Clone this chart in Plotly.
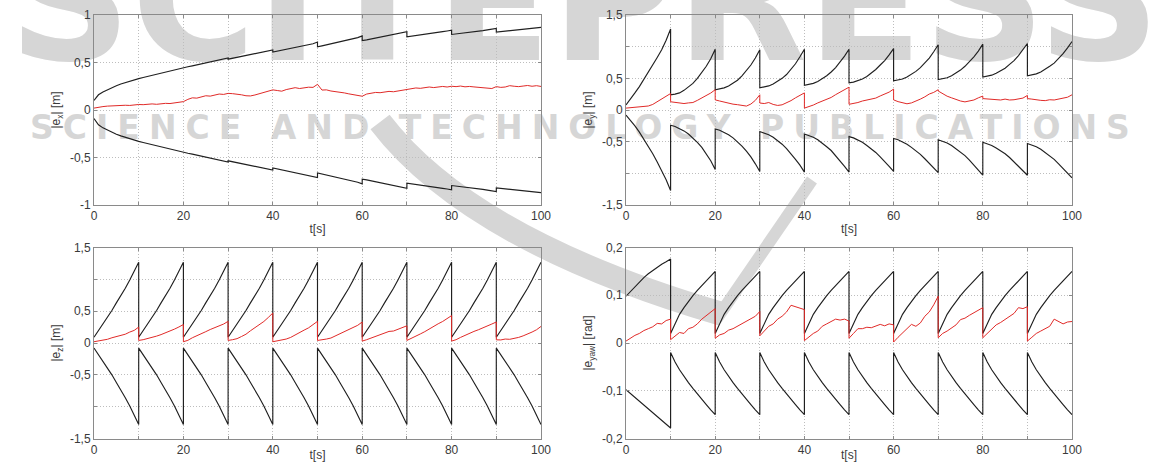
import plotly.graph_objects as go

# ---------------------------------------------------------------
# Estimation error |e| (red) and its confidence bounds (black)
# sampled every second; each bound list holds one 10 s cycle.
# ---------------------------------------------------------------
CYCLE_S = 10

# |e_x| [m]
ex_upper = [
    [0.10, 0.16, 0.19, 0.215, 0.237, 0.256, 0.273, 0.289, 0.303, 0.317, 0.33],
    [0.33, 0.342, 0.354, 0.366, 0.378, 0.389, 0.40, 0.412, 0.423, 0.434, 0.445],
    [0.445, 0.455, 0.465, 0.475, 0.485, 0.495, 0.505, 0.515, 0.525, 0.535, 0.548],
    [0.535, 0.545, 0.555, 0.565, 0.574, 0.583, 0.592, 0.601, 0.61, 0.62, 0.632],
    [0.61, 0.62, 0.629, 0.638, 0.647, 0.656, 0.665, 0.675, 0.685, 0.697, 0.715],
    [0.665, 0.675, 0.685, 0.695, 0.705, 0.715, 0.726, 0.737, 0.748, 0.762, 0.78],
    [0.73, 0.738, 0.747, 0.756, 0.766, 0.776, 0.786, 0.796, 0.806, 0.815, 0.825],
    [0.77, 0.776, 0.783, 0.79, 0.797, 0.804, 0.811, 0.818, 0.825, 0.832, 0.84],
    [0.795, 0.80, 0.806, 0.812, 0.818, 0.824, 0.83, 0.836, 0.843, 0.85, 0.858],
    [0.82, 0.825, 0.83, 0.836, 0.841, 0.847, 0.852, 0.857, 0.862, 0.866, 0.87],
]
ex_lower = [
    [-0.09, -0.155, -0.188, -0.213, -0.235, -0.255, -0.272, -0.288, -0.302, -0.316, -0.33],
    [-0.33, -0.342, -0.354, -0.366, -0.378, -0.389, -0.40, -0.412, -0.423, -0.434, -0.445],
    [-0.445, -0.455, -0.465, -0.475, -0.485, -0.495, -0.505, -0.515, -0.525, -0.535, -0.548],
    [-0.535, -0.545, -0.555, -0.565, -0.574, -0.583, -0.592, -0.601, -0.61, -0.62, -0.632],
    [-0.61, -0.62, -0.629, -0.638, -0.647, -0.656, -0.665, -0.675, -0.685, -0.697, -0.712],
    [-0.662, -0.672, -0.682, -0.692, -0.702, -0.713, -0.724, -0.735, -0.746, -0.76, -0.778],
    [-0.728, -0.736, -0.745, -0.754, -0.764, -0.774, -0.784, -0.794, -0.804, -0.814, -0.824],
    [-0.77, -0.776, -0.783, -0.79, -0.797, -0.804, -0.811, -0.818, -0.825, -0.832, -0.84],
    [-0.795, -0.80, -0.806, -0.812, -0.818, -0.824, -0.83, -0.836, -0.843, -0.85, -0.858],
    [-0.82, -0.825, -0.83, -0.836, -0.841, -0.847, -0.852, -0.857, -0.862, -0.866, -0.87],
]
ex_err = [
    0.020, 0.032, 0.036, 0.041, 0.044, 0.040, 0.046, 0.050, 0.048, 0.055, 0.058,
    0.056, 0.060, 0.064, 0.060, 0.066, 0.070, 0.068, 0.075, 0.080, 0.088,
    0.112, 0.128, 0.125, 0.138, 0.150, 0.146, 0.158, 0.168, 0.164, 0.175,
    0.172, 0.168, 0.160, 0.150, 0.148, 0.158, 0.170, 0.185, 0.200, 0.212,
    0.205, 0.198, 0.215, 0.228, 0.235, 0.226, 0.232, 0.240, 0.238, 0.270,
    0.210, 0.212, 0.200, 0.195, 0.188, 0.180, 0.170, 0.162, 0.150, 0.145,
    0.168, 0.176, 0.185, 0.182, 0.190, 0.196, 0.192, 0.200, 0.210, 0.222,
    0.226, 0.232, 0.228, 0.238, 0.242, 0.236, 0.244, 0.248, 0.242, 0.250,
    0.246, 0.252, 0.244, 0.248, 0.243, 0.238, 0.236, 0.230, 0.226, 0.246,
    0.238, 0.242, 0.256, 0.250, 0.246, 0.252, 0.258, 0.250, 0.256, 0.248,
]

# |e_y| [m]
ey_upper = [
    [0.08, 0.17, 0.27, 0.37, 0.48, 0.59, 0.71, 0.83, 0.95, 1.10, 1.28],
    [0.24, 0.25, 0.27, 0.31, 0.36, 0.42, 0.50, 0.59, 0.69, 0.81, 0.96],
    [0.32, 0.33, 0.35, 0.38, 0.42, 0.47, 0.54, 0.62, 0.71, 0.82, 0.95],
    [0.35, 0.36, 0.38, 0.41, 0.45, 0.50, 0.56, 0.64, 0.73, 0.84, 0.96],
    [0.39, 0.40, 0.42, 0.45, 0.49, 0.54, 0.60, 0.67, 0.76, 0.85, 0.96],
    [0.43, 0.44, 0.46, 0.49, 0.53, 0.58, 0.64, 0.71, 0.78, 0.87, 0.97],
    [0.46, 0.47, 0.49, 0.52, 0.56, 0.61, 0.67, 0.74, 0.82, 0.92, 1.03],
    [0.48, 0.49, 0.51, 0.54, 0.58, 0.63, 0.69, 0.76, 0.84, 0.93, 1.04],
    [0.52, 0.53, 0.55, 0.58, 0.62, 0.66, 0.72, 0.78, 0.86, 0.95, 1.05],
    [0.54, 0.55, 0.57, 0.60, 0.64, 0.69, 0.74, 0.81, 0.89, 0.98, 1.08],
]
ey_lower = [
    [-0.08, -0.16, -0.25, -0.35, -0.46, -0.57, -0.69, -0.82, -0.95, -1.10, -1.27],
    [-0.24, -0.26, -0.29, -0.33, -0.38, -0.44, -0.51, -0.59, -0.69, -0.80, -0.94],
    [-0.30, -0.32, -0.35, -0.39, -0.44, -0.50, -0.57, -0.65, -0.74, -0.85, -0.97],
    [-0.34, -0.36, -0.39, -0.43, -0.48, -0.54, -0.61, -0.69, -0.78, -0.87, -0.98],
    [-0.38, -0.40, -0.43, -0.47, -0.52, -0.58, -0.64, -0.72, -0.80, -0.89, -0.98],
    [-0.42, -0.44, -0.47, -0.51, -0.56, -0.61, -0.67, -0.74, -0.81, -0.89, -0.97],
    [-0.45, -0.47, -0.50, -0.54, -0.59, -0.64, -0.70, -0.77, -0.84, -0.91, -0.99],
    [-0.47, -0.49, -0.52, -0.56, -0.61, -0.66, -0.72, -0.79, -0.87, -0.95, -1.03],
    [-0.51, -0.53, -0.56, -0.60, -0.64, -0.69, -0.75, -0.82, -0.89, -0.96, -1.03],
    [-0.53, -0.55, -0.58, -0.62, -0.67, -0.72, -0.78, -0.85, -0.92, -0.99, -1.07],
]
ey_err = [
    [0.03, 0.036, 0.038, 0.047, 0.05, 0.063, 0.088, 0.132, 0.168, 0.212, 0.26],
    [0.13, 0.122, 0.108, 0.102, 0.112, 0.118, 0.152, 0.188, 0.232, 0.268, 0.32],
    [0.16, 0.142, 0.125, 0.104, 0.092, 0.084, 0.072, 0.062, 0.094, 0.152, 0.24],
    [0.11, 0.102, 0.118, 0.088, 0.072, 0.082, 0.112, 0.148, 0.192, 0.228, 0.27],
    [0.03, 0.052, 0.078, 0.112, 0.138, 0.172, 0.198, 0.242, 0.278, 0.322, 0.36],
    [0.09, 0.102, 0.118, 0.142, 0.158, 0.172, 0.188, 0.222, 0.248, 0.282, 0.33],
    [0.16, 0.132, 0.112, 0.098, 0.112, 0.138, 0.172, 0.208, 0.252, 0.278, 0.32],
    [0.30, 0.252, 0.218, 0.192, 0.162, 0.142, 0.128, 0.142, 0.158, 0.192, 0.22],
    [0.18, 0.172, 0.168, 0.162, 0.158, 0.172, 0.158, 0.162, 0.172, 0.188, 0.23],
    [0.18, 0.172, 0.158, 0.152, 0.148, 0.162, 0.158, 0.172, 0.178, 0.202, 0.24],
]

# |e_z| [m]
ez_upper = [
    [0.09, 0.19, 0.29, 0.40, 0.51, 0.63, 0.74, 0.86, 0.99, 1.13, 1.27],
    [0.09, 0.19, 0.29, 0.40, 0.51, 0.63, 0.74, 0.86, 0.99, 1.13, 1.27],
    [0.09, 0.19, 0.29, 0.40, 0.51, 0.63, 0.74, 0.86, 0.99, 1.13, 1.27],
    [0.09, 0.19, 0.29, 0.40, 0.51, 0.63, 0.74, 0.86, 0.99, 1.13, 1.27],
    [0.09, 0.19, 0.29, 0.40, 0.51, 0.63, 0.74, 0.86, 0.99, 1.13, 1.27],
    [0.09, 0.19, 0.29, 0.40, 0.51, 0.63, 0.74, 0.86, 0.99, 1.13, 1.27],
    [0.09, 0.19, 0.29, 0.40, 0.51, 0.63, 0.74, 0.86, 0.99, 1.13, 1.27],
    [0.09, 0.19, 0.29, 0.40, 0.51, 0.63, 0.74, 0.86, 0.99, 1.13, 1.27],
    [0.09, 0.19, 0.29, 0.40, 0.51, 0.63, 0.74, 0.86, 0.99, 1.13, 1.27],
    [0.09, 0.19, 0.29, 0.40, 0.51, 0.63, 0.74, 0.86, 0.99, 1.13, 1.27],
]
ez_lower = [
    [-0.08, -0.18, -0.28, -0.39, -0.50, -0.62, -0.73, -0.86, -0.99, -1.13, -1.28],
    [-0.08, -0.18, -0.28, -0.39, -0.50, -0.62, -0.73, -0.86, -0.99, -1.13, -1.28],
    [-0.08, -0.18, -0.28, -0.39, -0.50, -0.62, -0.73, -0.86, -0.99, -1.13, -1.28],
    [-0.08, -0.18, -0.28, -0.39, -0.50, -0.62, -0.73, -0.86, -0.99, -1.13, -1.28],
    [-0.08, -0.18, -0.28, -0.39, -0.50, -0.62, -0.73, -0.86, -0.99, -1.13, -1.28],
    [-0.08, -0.18, -0.28, -0.39, -0.50, -0.62, -0.73, -0.86, -0.99, -1.13, -1.28],
    [-0.08, -0.18, -0.28, -0.39, -0.50, -0.62, -0.73, -0.86, -0.99, -1.13, -1.28],
    [-0.08, -0.18, -0.28, -0.39, -0.50, -0.62, -0.73, -0.86, -0.99, -1.13, -1.28],
    [-0.08, -0.18, -0.28, -0.39, -0.50, -0.62, -0.73, -0.86, -0.99, -1.13, -1.28],
    [-0.08, -0.18, -0.28, -0.39, -0.50, -0.62, -0.73, -0.86, -0.99, -1.13, -1.28],
]
ez_err = [
    [0.02, 0.031, 0.042, 0.058, 0.082, 0.098, 0.122, 0.138, 0.172, 0.198, 0.25],
    [0.04, 0.052, 0.068, 0.092, 0.108, 0.132, 0.158, 0.192, 0.218, 0.252, 0.29],
    [0.02, 0.042, 0.082, 0.118, 0.152, 0.178, 0.212, 0.238, 0.272, 0.298, 0.34],
    [0.04, 0.052, 0.068, 0.102, 0.138, 0.192, 0.238, 0.292, 0.338, 0.402, 0.47],
    [0.02, 0.032, 0.038, 0.062, 0.088, 0.122, 0.158, 0.202, 0.238, 0.292, 0.34],
    [0.04, 0.048, 0.062, 0.078, 0.112, 0.138, 0.172, 0.208, 0.242, 0.278, 0.33],
    [0.03, 0.052, 0.078, 0.112, 0.138, 0.168, 0.182, 0.188, 0.212, 0.238, 0.27],
    [0.04, 0.072, 0.098, 0.142, 0.178, 0.222, 0.258, 0.302, 0.338, 0.382, 0.43],
    [0.03, 0.052, 0.088, 0.122, 0.148, 0.182, 0.208, 0.242, 0.272, 0.298, 0.33],
    [0.05, 0.048, 0.062, 0.058, 0.072, 0.088, 0.112, 0.138, 0.172, 0.208, 0.26],
]

# |e_yaw| [rad]
eyaw_upper = [
    [0.098, 0.108, 0.118, 0.128, 0.137, 0.145, 0.152, 0.159, 0.165, 0.170, 0.176],
    [0.02, 0.042, 0.06, 0.074, 0.087, 0.099, 0.11, 0.12, 0.131, 0.141, 0.15],
    [0.02, 0.042, 0.06, 0.074, 0.087, 0.099, 0.11, 0.12, 0.131, 0.141, 0.15],
    [0.02, 0.042, 0.06, 0.074, 0.087, 0.099, 0.11, 0.12, 0.131, 0.141, 0.15],
    [0.02, 0.042, 0.06, 0.074, 0.087, 0.099, 0.11, 0.12, 0.131, 0.141, 0.15],
    [0.02, 0.042, 0.06, 0.074, 0.087, 0.099, 0.11, 0.12, 0.131, 0.141, 0.15],
    [0.02, 0.042, 0.06, 0.074, 0.087, 0.099, 0.11, 0.12, 0.131, 0.141, 0.15],
    [0.02, 0.042, 0.06, 0.074, 0.087, 0.099, 0.11, 0.12, 0.131, 0.141, 0.15],
    [0.02, 0.042, 0.06, 0.074, 0.087, 0.099, 0.11, 0.12, 0.131, 0.141, 0.15],
    [0.02, 0.042, 0.06, 0.074, 0.087, 0.099, 0.11, 0.12, 0.131, 0.141, 0.15],
]
eyaw_lower = [
    [-0.098, -0.106, -0.114, -0.122, -0.13, -0.138, -0.146, -0.154, -0.162, -0.17, -0.178],
    [-0.02, -0.04, -0.056, -0.07, -0.083, -0.095, -0.107, -0.118, -0.129, -0.14, -0.15],
    [-0.02, -0.04, -0.056, -0.07, -0.083, -0.095, -0.107, -0.118, -0.129, -0.14, -0.15],
    [-0.02, -0.04, -0.056, -0.07, -0.083, -0.095, -0.107, -0.118, -0.129, -0.14, -0.15],
    [-0.02, -0.04, -0.056, -0.07, -0.083, -0.095, -0.107, -0.118, -0.129, -0.14, -0.15],
    [-0.02, -0.04, -0.056, -0.07, -0.083, -0.095, -0.107, -0.118, -0.129, -0.14, -0.15],
    [-0.02, -0.04, -0.056, -0.07, -0.083, -0.095, -0.107, -0.118, -0.129, -0.14, -0.15],
    [-0.02, -0.04, -0.056, -0.07, -0.083, -0.095, -0.107, -0.118, -0.129, -0.14, -0.15],
    [-0.02, -0.04, -0.056, -0.07, -0.083, -0.095, -0.107, -0.118, -0.129, -0.14, -0.15],
    [-0.02, -0.04, -0.056, -0.07, -0.083, -0.095, -0.107, -0.118, -0.129, -0.14, -0.15],
]
eyaw_err = [
    [0.004, 0.010, 0.016, 0.020, 0.026, 0.030, 0.034, 0.041, 0.040, 0.047, 0.050],
    [0.007, 0.015, 0.022, 0.020, 0.030, 0.033, 0.040, 0.050, 0.058, 0.066, 0.072],
    [0.010, 0.017, 0.020, 0.027, 0.030, 0.035, 0.040, 0.045, 0.050, 0.056, 0.066],
    [0.015, 0.025, 0.035, 0.040, 0.050, 0.056, 0.065, 0.079, 0.076, 0.072, 0.070],
    [0.005, 0.012, 0.020, 0.025, 0.035, 0.040, 0.045, 0.050, 0.048, 0.050, 0.046],
    [0.010, 0.020, 0.030, 0.030, 0.033, 0.032, 0.035, 0.039, 0.036, 0.040, 0.038],
    [0.002, 0.012, 0.021, 0.030, 0.039, 0.035, 0.042, 0.056, 0.065, 0.080, 0.098],
    [0.011, 0.020, 0.025, 0.032, 0.038, 0.049, 0.052, 0.058, 0.063, 0.068, 0.074],
    [0.011, 0.020, 0.030, 0.038, 0.043, 0.049, 0.055, 0.062, 0.074, 0.072, 0.076],
    [0.004, 0.012, 0.020, 0.025, 0.030, 0.035, 0.050, 0.045, 0.040, 0.044, 0.045],
]

# labelled ticks (decimal comma) and the extra unlabelled grid positions
x_ticks = [0, 20, 40, 60, 80, 100]
x_ticktext = ["0", "20", "40", "60", "80", "100"]
x_minor = [10, 30, 50, 70, 90]
y_ticks_1 = [-1, -0.5, 0, 0.5, 1]
y_ticktext_1 = ["-1", "-0,5", "0", "0,5", "1"]
y_ticks_15 = [-1.5, -0.5, 0, 0.5, 1.5]
y_ticktext_15 = ["-1,5", "-0,5", "0", "0,5", "1,5"]
y_minor_15 = [-1, 1]
y_ticks_02 = [-0.2, -0.1, 0, 0.1, 0.2]
y_ticktext_02 = ["-0,2", "-0,1", "0", "0,1", "0,2"]
y_titles = ["|e<sub>x</sub>| [m]", "|e<sub>y</sub>| [m]",
            "|e<sub>z</sub>| [m]", "|e<sub>yaw</sub>| [rad]"]
x_title = "t[s]"

BLACK = "#202020"
RED = "#e02a28"
GRID = "#bdbdbd"
FRAME = "#8a8a8a"
FIG_W, FIG_H = 1169, 462


def stitch(segments):
    """Join 10 s cycles into one polyline (jumps kept at cycle ends)."""
    t, v = [], []
    for k, seg in enumerate(segments):
        step = CYCLE_S / (len(seg) - 1)
        for i, val in enumerate(seg):
            t.append(k * CYCLE_S + i * step)
            v.append(val)
    return t, v


def px_x(p):
    return p / FIG_W


def px_y(p):
    return 1 - p / FIG_H


fig = go.Figure()

panels = [
    # (axis suffix, upper, lower, error series)
    ("", ex_upper, ex_lower, ex_err),
    ("2", ey_upper, ey_lower, ey_err),
    ("3", ez_upper, ez_lower, ez_err),
    ("4", eyaw_upper, eyaw_lower, eyaw_err),
]
for suffix, up, lo, err in panels:
    xa, ya = "x" + suffix, "y" + suffix
    for bound in (up, lo):
        t, v = stitch(bound)
        fig.add_trace(go.Scatter(x=t, y=v, mode="lines", xaxis=xa, yaxis=ya,
                                 line=dict(color=BLACK, width=1.15), showlegend=False,
                                 hoverinfo="skip"))
    if isinstance(err[0], list):
        t, v = stitch(err)
    else:
        t, v = list(range(len(err))), err
    fig.add_trace(go.Scatter(x=t, y=v, mode="lines", xaxis=xa, yaxis=ya,
                             line=dict(color=RED, width=1.0), showlegend=False,
                             hoverinfo="skip"))

text_font = dict(family="Liberation Sans, Arial, sans-serif", size=12, color="#3a3a3a")
DOT = "1px,2px"
axis_common = dict(
    showline=True, mirror="ticks", linecolor=FRAME, linewidth=1,
    showgrid=True, gridcolor=GRID, griddash=DOT, gridwidth=1,
    zeroline=False, ticks="inside", ticklen=3, tickcolor=FRAME,
    tickfont=text_font, automargin=False, fixedrange=True,
)

left_dom = [px_x(94), px_x(541)]
right_dom = [px_x(626), px_x(1072)]
top_dom = [px_y(205), px_y(15)]
bot_dom = [px_y(438.5), px_y(247.5)]

layout = dict(
    width=FIG_W, height=FIG_H,
    margin=dict(l=0, r=0, t=0, b=0),
    paper_bgcolor="white", plot_bgcolor="rgba(0,0,0,0)",
    showlegend=False,
)


def minor_grid(vals):
    return dict(tickmode="array", tickvals=vals, showgrid=True, gridcolor=GRID,
                griddash=DOT, gridwidth=1, ticks="inside", ticklen=3, tickcolor=FRAME)


x_specs = [("xaxis", left_dom, "y"), ("xaxis2", right_dom, "y2"),
           ("xaxis3", left_dom, "y3"), ("xaxis4", right_dom, "y4")]
y_specs = [("yaxis", top_dom, "x", y_ticks_1, y_ticktext_1, [], [-1, 1], 0),
           ("yaxis2", top_dom, "x2", y_ticks_15, y_ticktext_15, y_minor_15, [-1.5, 1.5], 1),
           ("yaxis3", bot_dom, "x3", y_ticks_15, y_ticktext_15, y_minor_15, [-1.5, 1.5], 2),
           ("yaxis4", bot_dom, "x4", y_ticks_02, y_ticktext_02, [], [-0.2, 0.2], 3)]
for name, dom, anchor in x_specs:
    layout[name] = dict(axis_common, domain=dom, anchor=anchor, range=[0, 100],
                        tickmode="array", tickvals=x_ticks, ticktext=x_ticktext,
                        minor=minor_grid(x_minor),
                        title=dict(text=x_title, font=text_font, standoff=2))
for name, dom, anchor, tv, tt, mv, rng, k in y_specs:
    spec = dict(axis_common, domain=dom, anchor=anchor, range=rng,
                tickmode="array", tickvals=tv, ticktext=tt,
                title=dict(text=y_titles[k], font=text_font, standoff=6))
    if mv:
        spec["minor"] = minor_grid(mv)
    layout[name] = spec
fig.update_layout(**layout)

# publisher watermark, kept behind the curves
WM = "#d6d6d6"
fig.add_shape(type="path", xref="paper", yref="paper", layer="below",
              path="M {:.4f},{:.4f} Q {:.4f},{:.4f} {:.4f},{:.4f}".format(
                  px_x(380), px_y(122), px_x(470), px_y(240), px_x(722), px_y(314)),
              line=dict(color=WM, width=24), fillcolor="rgba(0,0,0,0)")
fig.add_shape(type="path", xref="paper", yref="paper", layer="below",
              path="M {:.4f},{:.4f} L {:.4f},{:.4f}".format(
                  px_x(716), px_y(320), px_x(812), px_y(180)),
              line=dict(color=WM, width=12), fillcolor="rgba(0,0,0,0)")
fig.add_shape(type="rect", xref="paper", yref="paper", layer="below",
              x0=px_x(0), x1=px_x(FIG_W), y0=px_y(50), y1=px_y(-72),
              line=dict(width=0), fillcolor="rgba(0,0,0,0)",
              label=dict(text="SCITEPRESS", textposition="middle center",
                         font=dict(family="DejaVu Sans", size=170, color=WM, weight="bold")))
fig.add_shape(type="rect", xref="paper", yref="paper", layer="below",
              x0=px_x(0), x1=px_x(FIG_W), y0=px_y(145), y1=px_y(105),
              line=dict(width=0), fillcolor="rgba(0,0,0,0)",
              label=dict(text='<span style="letter-spacing:9px">SCIENCE AND TECHNOLOGY PUBLICATIONS</span>',
                         textposition="middle center",
                         font=dict(family="DejaVu Sans", size=33, color=WM, weight="bold")))

fig.write_html("out.html")
